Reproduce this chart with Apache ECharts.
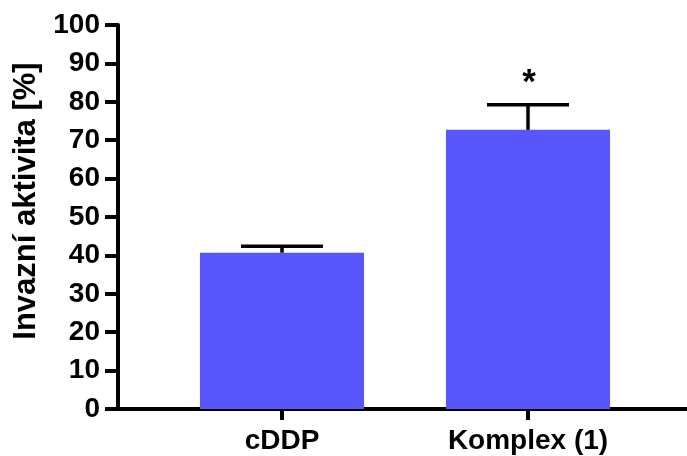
<!DOCTYPE html>
<html><head><meta charset="utf-8">
<script src="https://cdn.jsdelivr.net/npm/echarts@6/dist/echarts.min.js"></script>
<style>html,body{margin:0;padding:0;background:#fff}#c{width:687px;height:456px}</style>
</head><body><div id="c"></div>
<script>
var categories = ['cDDP', 'Komplex (1)'];
var means = [40.7, 72.7];
var errors = [1.7, 6.5];
var significance = ['', '*'];
var yTicks = [0, 10, 20, 30, 40, 50, 60, 70, 80, 90, 100];

var FONT = 'Liberation Sans, Arial, sans-serif';
var chart = echarts.init(document.getElementById('c'));
var errData = categories.map(function (c, i) { return [i, means[i], means[i] + errors[i], significance[i]]; });

chart.setOption({
  animation: false,
  grid: [
    { left: 118, right: 0, top: 25, bottom: 47 },
    { left: 159, right: 36, top: 25, bottom: 47 }
  ],
  xAxis: [
    { gridIndex: 0, type: 'value', min: 0, max: 1, axisLine: { show: true, lineStyle: { color: '#000', width: 4 } },
      axisTick: { show: false }, axisLabel: { show: false }, splitLine: { show: false } },
    { gridIndex: 1, type: 'category', data: categories, axisLine: { show: false },
      axisTick: { show: true, alignWithLabel: true, length: 11, lineStyle: { color: '#000', width: 4 } },
      axisLabel: { fontFamily: FONT, fontSize: 28, fontWeight: 'bold', color: '#000', margin: 18 } }
  ],
  yAxis: [
    { gridIndex: 0, type: 'value', min: yTicks[0], max: yTicks[yTicks.length - 1], interval: yTicks[1] - yTicks[0],
      name: 'Invazní aktivita [%]', nameLocation: 'middle', nameGap: 76,
      nameTextStyle: { fontFamily: FONT, fontSize: 31, fontWeight: 'bold', color: '#000', padding: [0, 0, 0, 32] },
      axisLine: { show: true, lineStyle: { color: '#000', width: 4 } },
      axisTick: { show: true, length: 13, lineStyle: { color: '#000', width: 4 } },
      axisLabel: { fontFamily: FONT, fontSize: 28, fontWeight: 'bold', color: '#000', margin: 18 },
      splitLine: { show: false } },
    { gridIndex: 1, type: 'value', min: yTicks[0], max: yTicks[yTicks.length - 1], show: false, splitLine: { show: false } }
  ],
  series: [
    { type: 'bar', xAxisIndex: 1, yAxisIndex: 1, data: means, barWidth: '66.7%', itemStyle: { color: '#5656fb' }, z: 2 },
    { type: 'custom', xAxisIndex: 1, yAxisIndex: 1, data: errData, z: 3,
      renderItem: function (params, api) {
        var top = api.coord([api.value(0), api.value(2)]);
        var base = api.coord([api.value(0), api.value(1)]);
        var band = api.size([1, 0])[0];
        var half = band * 0.667 / 4;
        var children = [
          { type: 'line', shape: { x1: top[0], y1: top[1], x2: top[0], y2: base[1] }, style: { stroke: '#000', lineWidth: 3.5 } },
          { type: 'line', shape: { x1: top[0] - half, y1: top[1], x2: top[0] + half, y2: top[1] }, style: { stroke: '#000', lineWidth: 3.5 } }
        ];
        var s = errData[params.dataIndex][3];
        if (s) {
          children.push({ type: 'text', style: { text: s, x: top[0] + 1, y: top[1] - 4, align: 'center', verticalAlign: 'bottom',
            fontFamily: FONT, fontSize: 35, fontWeight: 'bold', fill: '#000' } });
        }
        return { type: 'group', children: children };
      } }
  ]
});
</script></body></html>
